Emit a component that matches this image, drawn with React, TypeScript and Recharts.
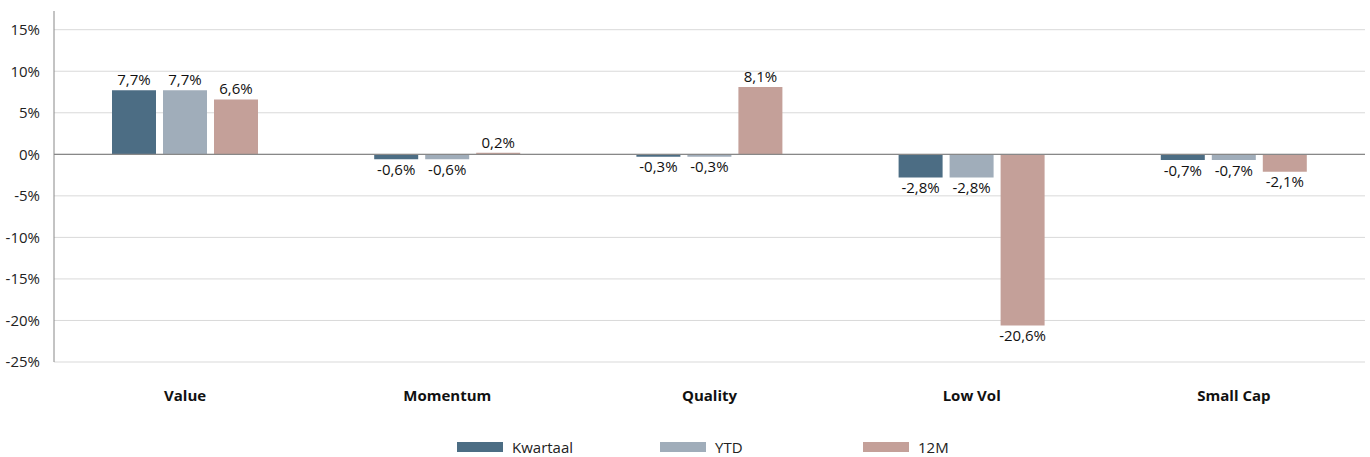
import React from 'react';
import { BarChart, Bar, XAxis, YAxis, CartesianGrid, ReferenceLine, LabelList, Legend } from 'recharts';

const categories = ['Value', 'Momentum', 'Quality', 'Low Vol', 'Small Cap'];
const kwartaal = [7.7, -0.6, -0.3, -2.8, -0.7];
const ytd = [7.7, -0.6, -0.3, -2.8, -0.7];
const twelveM = [6.6, 0.2, 8.1, -20.6, -2.1];
const yTicks = [-25, -20, -15, -10, -5, 0, 5, 10, 15];

const SERIES = [
  { key: 'kwartaal', name: 'Kwartaal', color: '#4c6d84' },
  { key: 'ytd', name: 'YTD', color: '#a0adba' },
  { key: 'm12', name: '12M', color: '#c4a099' },
];

const data = categories.map((c, i) => ({
  name: c,
  kwartaal: kwartaal[i],
  ytd: ytd[i],
  m12: twelveM[i],
}));

const FONT = '"Open Sans", sans-serif';

const fmtPct = (v: number) => `${v.toFixed(1).replace('.', ',')}%`;

function LegendBox() {
  return (
    <div style={{ height: 20, display: 'flex', paddingLeft: 457, fontFamily: FONT, fontSize: 15, color: '#222' }}>
      {SERIES.map((s) => (
        <div key={s.key} style={{ width: 203, display: 'flex', alignItems: 'center' }}>
          <span style={{ display: 'inline-block', width: 46, height: 10, background: s.color, marginRight: 9 }} />
          <span>{s.name}</span>
        </div>
      ))}
    </div>
  );
}

export default function App() {
  return (
    <div style={{ position: 'absolute', left: 0, top: 0, background: '#fff' }}>
      <BarChart
        width={1370}
        height={457}
        data={data}
        margin={{ top: 11, right: 5, left: 0, bottom: 0 }}
        barGap={7}
        barSize={44}
      >
        <CartesianGrid vertical={false} stroke="#d9d9d9" syncWithTicks />
        <XAxis
          dataKey="name"
          axisLine={false}
          tickLine={false}
          height={75}
          tickMargin={22}
          tick={{ fontFamily: FONT, fontSize: 15, fontWeight: 'bold', fill: '#111' }}
          interval={0}
        />
        <YAxis
          width={54}
          domain={[-25, 17.25]}
          ticks={yTicks}
          allowDataOverflow
          tickFormatter={(v: number) => `${v}%`}
          tickLine={false}
          tickMargin={8}
          axisLine={{ stroke: '#888' }}
          tick={{ fontFamily: FONT, fontSize: 15, fill: '#222' }}
        />
        <ReferenceLine y={0} stroke="#888" strokeWidth={1.2} />
        {SERIES.map((s) => (
          <Bar key={s.key} dataKey={s.key} name={s.name} fill={s.color} isAnimationActive={false}>
            <LabelList
              dataKey={s.key}
              position="top"
              formatter={(v: number) => fmtPct(v)}
              style={{ fontFamily: FONT, fontSize: 15, fill: '#111' }}
            />
          </Bar>
        ))}
        <Legend verticalAlign="bottom" content={() => <LegendBox />} />
      </BarChart>
    </div>
  );
}
